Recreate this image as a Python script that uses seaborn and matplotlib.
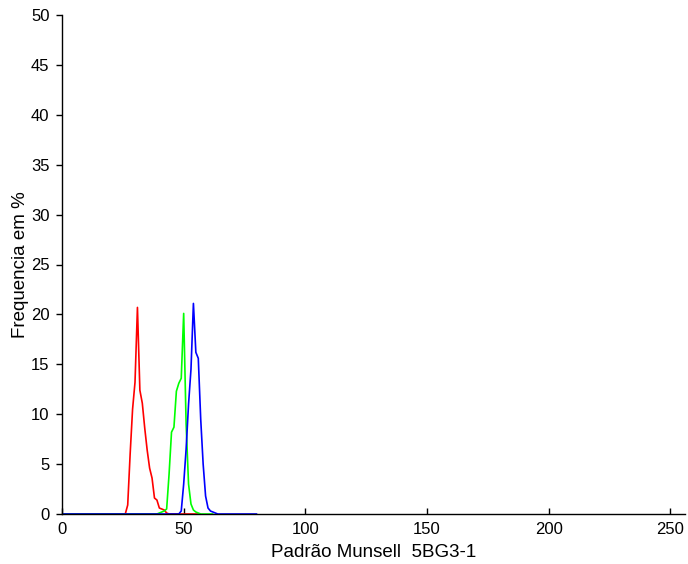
import numpy as np
import pandas as pd
import matplotlib
matplotlib.use("Agg")
import matplotlib.pyplot as plt
import seaborn as sns

# Histogram frequencies (%) per intensity level for each channel
red_levels = list(range(0, 57))
red_freq = [0.0] * 26 + [0.0, 0.9, 6.0, 10.5, 13.2, 20.7, 12.4, 11.1, 8.6, 6.4,
                         4.6, 3.6, 1.6, 1.4, 0.6, 0.5, 0.4, 0.1] + [0.0] * 13

green_levels = list(range(0, 63))
green_freq = [0.0] * 40 + [0.1, 0.2, 0.3, 0.5, 4.0, 8.2, 8.7, 12.3, 13.1, 13.6,
                           20.1, 9.0, 3.0, 1.0, 0.4, 0.2, 0.1] + [0.0] * 6

blue_levels = list(range(0, 81))
blue_freq = [0.0] * 48 + [0.0, 0.3, 3.0, 6.5, 11.0, 14.5, 21.1, 16.2, 15.6, 9.5,
                          5.0, 1.8, 0.6, 0.3, 0.2, 0.1] + [0.0] * 17

x_ticks = [0, 50, 100, 150, 200, 250]
y_ticks = [0, 5, 10, 15, 20, 25, 30, 35, 40, 45, 50]

df = pd.concat([
    pd.DataFrame({"level": red_levels, "freq": red_freq, "canal": "R"}),
    pd.DataFrame({"level": green_levels, "freq": green_freq, "canal": "G"}),
    pd.DataFrame({"level": blue_levels, "freq": blue_freq, "canal": "B"}),
])

sns.set_theme(style="white")
plt.rcParams["font.family"] = ["Liberation Sans", "DejaVu Sans"]

fig = plt.figure(figsize=(6.88, 5.64), dpi=100)
ax = fig.add_axes([62 / 688, 1 - 514 / 564, (685 - 62) / 688, (514 - 15) / 564])

sns.lineplot(data=df, x="level", y="freq", hue="canal",
             palette={"R": "#ff0000", "G": "#00ff00", "B": "#0000ff"},
             linewidth=1.2, legend=False, ax=ax)

ax.set_xlim(0, 256)
ax.set_ylim(0, 50)
ax.set_xticks(x_ticks)
ax.set_yticks(y_ticks)
ax.tick_params(bottom=True, left=True, top=False, right=False)
ax.tick_params(axis="x", direction="in", length=4, width=1, labelsize=12,
               color="black", labelcolor="black", pad=6)
ax.tick_params(axis="y", direction="out", length=4, width=1, labelsize=12,
               color="black", labelcolor="black", pad=5)
for side in ("top", "right"):
    ax.spines[side].set_visible(False)
for side in ("left", "bottom"):
    ax.spines[side].set_color("black")
    ax.spines[side].set_linewidth(1.0)

ax.set_xlabel("Padrão Munsell  5BG3-1", fontsize=13.5, color="black", labelpad=5)
ax.set_ylabel("Frequencia em %", fontsize=13.5, color="black", labelpad=1.5)

fig.savefig("out.png", dpi=100)
